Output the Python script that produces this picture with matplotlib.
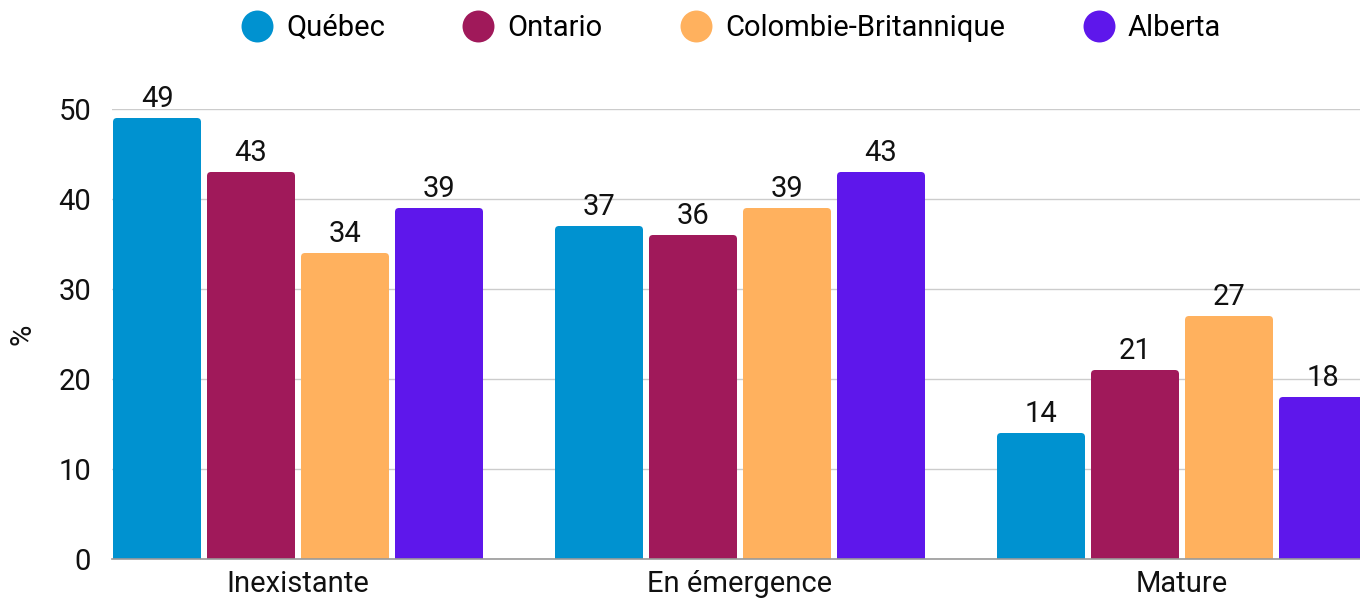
import matplotlib
matplotlib.use("Agg")
import matplotlib.pyplot as plt
from matplotlib.patches import FancyBboxPatch
from matplotlib.lines import Line2D
import numpy as np

categories = ["Inexistante", "En émergence", "Mature"]
series_names = ["Québec", "Ontario", "Colombie-Britannique", "Alberta"]
quebec = [49, 37, 14]
ontario = [43, 36, 21]
colombie = [34, 39, 27]
alberta = [39, 43, 18]
yticks = [0, 10, 20, 30, 40, 50]
colors = ["#0092D0", "#A0195A", "#FFB15E", "#5E17EB"]

plt.rcParams['font.family'] = ['Roboto', 'DejaVu Sans']
FS = 21

fig = plt.figure(figsize=(13.6, 6.03), dpi=100)
ax = fig.add_axes([112/1360, 1-559/603, 1-112/1360, (559-109)/603])

values = [quebec, ontario, colombie, alberta]
x = np.arange(len(categories))
pitch = 94/442
width = 88/442
xpx = 1/442   # data units per px in x
ypx = 1/9     # data units per px in y
r = 4  # rounding px

for i, (name, vals) in enumerate(zip(series_names, values)):
    offs = (i - 1.5) * pitch
    bars = ax.bar(x + offs, vals, width=width, color=colors[i], label=name)
    for b, v in zip(bars, vals):
        b.set_visible(False)
        x0 = b.get_x()
        w = b.get_width()
        h = b.get_height()
        p = FancyBboxPatch((x0, -5), w, h + 5,
                           boxstyle=f"round,pad=0,rounding_size={r*xpx}",
                           mutation_aspect=ypx/xpx,
                           facecolor=colors[i], edgecolor='none', zorder=2,
                           clip_on=True)
        ax.add_patch(p)
        ax.text(x0 + w/2, h + 0.6, f"{v}", ha='center', va='bottom',
                fontsize=FS, color='#111111', clip_on=False)

ax.set_xlim(-186/442, (1360-112-186)/442)
ax.set_ylim(0, 50)
ax.set_yticks(yticks)
ax.set_yticklabels([str(t) for t in yticks], fontsize=FS, color='#111111')
ax.set_xticks(x)
ax.set_xticklabels(categories, fontsize=FS, color='#111111')
ax.tick_params(axis='both', length=0)
ax.tick_params(axis='y', pad=15)
ax.tick_params(axis='x', pad=8)
ax.yaxis.grid(True, color='#CCCCCC', linewidth=1)
ax.set_axisbelow(True)
for s in ['top', 'right', 'left']:
    ax.spines[s].set_visible(False)
ax.spines['bottom'].set_color('#999999')
ax.spines['bottom'].set_linewidth(1.2)
ax.spines['bottom'].set_zorder(3)
ax.set_ylabel("%", fontsize=FS, color='#111111')
ax.yaxis.set_label_coords((37-112)/1248, 0.5)

handles = [Line2D([], [], linestyle='none', marker='o', markersize=23,
                  markerfacecolor=c, markeredgecolor='none') for c in colors]
fig.legend(handles, series_names, loc='center', bbox_to_anchor=(0.537, 1-28/603),
           ncol=4, frameon=False, fontsize=FS, handletextpad=0.4,
           columnspacing=2.6, handlelength=1.2)

fig.savefig("out.png", dpi=100)
